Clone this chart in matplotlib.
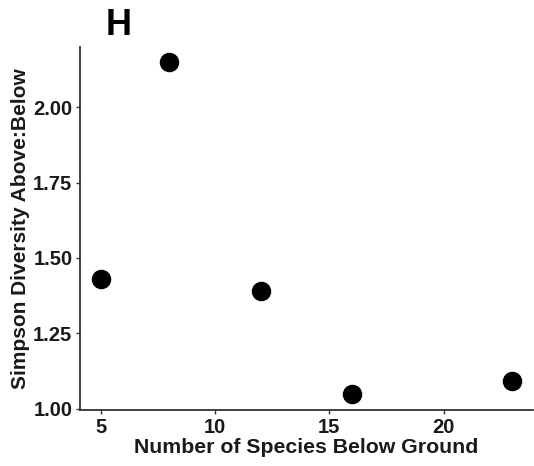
import matplotlib.pyplot as plt

plt.rcParams['font.family'] = ['Liberation Sans', 'DejaVu Sans']

species_below = [5, 8, 12, 16, 23]
simpson_ratio = [1.43, 2.15, 1.39, 1.05, 1.09]

fig = plt.figure(figsize=(5.34, 4.66), dpi=100)
ax = fig.add_axes([0.150, 0.120, 0.848, 0.779])

ax.scatter(species_below, simpson_ratio, s=170, color='black', zorder=3)

ax.set_xlim(4.1, 23.9)
ax.set_ylim(0.995, 2.2)
ax.set_xticks([5, 10, 15, 20])
ax.set_yticks([1.00, 1.25, 1.50, 1.75, 2.00])
ax.set_yticklabels(['1.00', '1.25', '1.50', '1.75', '2.00'])

for side in ['top', 'right']:
    ax.spines[side].set_visible(False)
for side in ['left', 'bottom']:
    ax.spines[side].set_linewidth(1.3)
    ax.spines[side].set_color('#333333')

ax.tick_params(axis='both', length=3, width=1, color='#333333',
               labelsize=14.5, labelcolor='#1a1a1a', pad=2.5)
for lbl in ax.get_xticklabels() + ax.get_yticklabels():
    lbl.set_fontweight('bold')

ax.set_xlabel('Number of Species Below Ground', fontsize=15.3, fontweight='bold',
              color='#1a1a1a', labelpad=1)
ax.set_ylabel('Simpson Diversity Above:Below', fontsize=15, fontweight='bold',
              color='#1a1a1a', labelpad=2)

fig.text(0.223, 0.945, 'H', fontsize=26, fontweight='bold', ha='center', va='center')

fig.savefig('out.png', dpi=100)
